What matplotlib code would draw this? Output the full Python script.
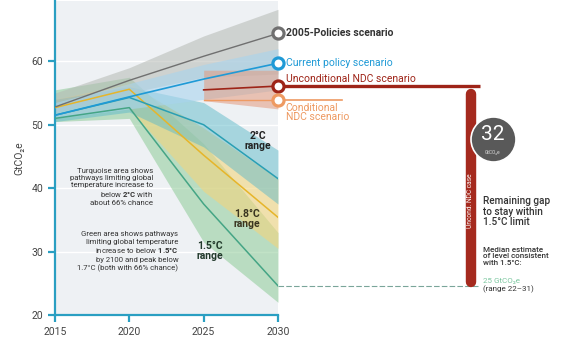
import matplotlib
matplotlib.use("Agg")
import matplotlib.pyplot as plt
import matplotlib.transforms as mtransforms
import numpy as np

plt.rcParams['font.family'] = ['Roboto', 'DejaVu Sans']
plt.rcParams['mathtext.fontset'] = 'custom'
plt.rcParams['mathtext.rm'] = 'Roboto'
plt.rcParams['mathtext.bf'] = 'Roboto:bold'

years = [2015, 2020, 2025, 2030]
ndc_years = [2025, 2030]

# Scenario lines
pol2005 = [52.8, 57.0, 60.8, 64.4]
current = [51.5, 54.4, 57.2, 59.7]
path_2c = [51.5, 54.3, 50.0, 41.5]
path_18c = [52.7, 55.6, 45.2, 35.4]
path_15c = [51.0, 52.7, 37.5, 24.6]
uncond_ndc = [55.5, 56.1]
cond_ndc = [53.9, 53.9]

# Ranges (low, high)
pol2005_lo = [52.0, 55.0, 57.5, 58.0]
pol2005_hi = [55.0, 59.0, 64.0, 68.2]
current_lo = [51.0, 52.5, 54.0, 55.5]
current_hi = [53.5, 56.5, 59.5, 62.0]
r2c_lo = [50.5, 52.0, 46.5, 37.5]
r2c_hi = [54.0, 56.0, 53.5, 46.0]
r18c_lo = [51.5, 52.5, 39.5, 30.5]
r18c_hi = [54.0, 56.5, 49.5, 41.5]
r15c_lo = [50.5, 51.0, 31.5, 22.0]
r15c_hi = [55.5, 57.5, 47.0, 33.0]
ndc_lo = [53.8, 52.5]
ndc_hi = [58.6, 58.6]

median_15 = 25
gap_value = 32

yticks = [20, 30, 40, 50, 60]
xticks = [2015, 2020, 2025, 2030]

C_GREY = '#707070'
C_BLUE = '#1f9ad6'
C_TEAL = '#2a9fb3'
C_YEL = '#e6b52a'
C_GRN = '#45a585'
C_RED = '#9e2418'
C_ORG = '#ee9a62'
C_SPINE = '#2a9fc2'
C_TXT = '#333333'

fig = plt.figure(figsize=(5.8, 3.6), dpi=100)
ax = fig.add_axes([0.0948, 0.125, 0.3845, 0.872])
ax.set_facecolor('#eef1f4')
ax.set_xlim(2015, 2030)
ax.set_ylim(20, 69.5)

for y in yticks[1:]:
    ax.axhline(y, color='white', lw=1.0, zorder=0.5)

# Bands
ax.fill_between(years, r15c_lo, r15c_hi, color='#8fcb98', alpha=0.55, lw=0, zorder=1)
ax.fill_between(years, r18c_lo, r18c_hi, color='#f2d57e', alpha=0.6, lw=0, zorder=1.1)
ax.fill_between(years, r2c_lo, r2c_hi, color='#5fbac9', alpha=0.5, lw=0, zorder=1.2)
ax.fill_between(years, pol2005_lo, pol2005_hi, color='#b5b9b4', alpha=0.55, lw=0, zorder=1.3)
ax.fill_between(years, current_lo, current_hi, color='#a8d4ee', alpha=0.6, lw=0, zorder=1.4)
ax.fill_between(ndc_years, ndc_lo, ndc_hi, color='#e49a7e', alpha=0.55, lw=0, zorder=1.5)

# Lines
ax.plot(years, path_15c, color=C_GRN, lw=1.1, zorder=3)
ax.plot(years, path_18c, color=C_YEL, lw=1.1, zorder=3)
ax.plot(years, path_2c, color=C_TEAL, lw=1.1, zorder=3)
ax.plot(years, pol2005, color=C_GREY, lw=1.0, zorder=3)
ax.plot(years, current, color=C_BLUE, lw=1.2, zorder=3)
ax.plot(ndc_years, uncond_ndc, color=C_RED, lw=1.2, zorder=3)
ax.plot(ndc_years, cond_ndc, color=C_ORG, lw=1.0, zorder=3)

bt = mtransforms.blended_transform_factory(ax.transAxes, ax.transData)

# extensions to the right
ax.plot([1.0, 1.906], [uncond_ndc[-1]] * 2, color=C_RED, lw=2.4, transform=bt,
        clip_on=False, zorder=4, solid_capstyle='butt')
ax.plot([1.0, 1.287], [cond_ndc[-1]] * 2, color=C_ORG, lw=1.2, transform=bt,
        clip_on=False, zorder=4)
ax.plot([1.0, 1.906], [median_15 - 0.4] * 2, color='#7aa59a', lw=0.8, ls=(0, (5, 2)),
        transform=bt, clip_on=False, zorder=4)

# gap bar
ax.plot([1.864, 1.864], [uncond_ndc[-1] - 1.2, median_15 + 0.2], color='#a52a1e', lw=7.5,
        transform=bt, clip_on=False, zorder=5, solid_capstyle='round')
ax.text(1.864, 38, 'Uncond. NDC case', rotation=90, color='white', fontsize=4.8,
        ha='center', va='center', transform=bt, zorder=6)

# end markers
for vals, col in [(pol2005, C_GREY), (current, C_BLUE), (uncond_ndc, C_RED), (cond_ndc, C_ORG)]:
    ax.plot([2030], [vals[-1]], marker='o', ms=8, mfc='white', mec=col, mew=2.3,
            clip_on=False, zorder=7)

# gap circle
ax.scatter([1.963], [47.8], s=1050, color='#595959', edgecolor='white', lw=1.2,
           transform=bt, clip_on=False, zorder=8)
ax.text(1.963, 48.4, str(gap_value), color='white', fontsize=15, ha='center', va='center',
        transform=bt, zorder=9)
ax.text(1.963, 45.6, 'GtCO₂e', color='#dddddd', fontsize=3.5, ha='center', va='center',
        transform=bt, zorder=9)

# scenario labels
ax.text(1.035, pol2005[-1], '2005-Policies scenario', color=C_TXT, fontsize=7.5,
        fontweight='bold', va='center', transform=bt)
ax.text(1.035, current[-1] + 0.1, 'Current policy scenario', color=C_BLUE, fontsize=7.5,
        va='center', transform=bt)
ax.text(1.035, uncond_ndc[-1] + 0.35, 'Unconditional NDC scenario', color=C_RED, fontsize=7.5,
        va='bottom', transform=bt)
ax.text(1.035, cond_ndc[-1] - 0.4, 'Conditional\nNDC scenario', color=C_ORG, fontsize=7.5,
        va='top', linespacing=0.95, transform=bt)

# range labels
ax.text(2028.65, 47.4, '2°C\nrange', fontsize=7.5, fontweight='bold', color='#222222',
        ha='center', va='center', linespacing=1.0, zorder=6)
ax.text(2027.9, 35.2, '1.8°C\nrange', fontsize=7.5, fontweight='bold', color='#3a3520',
        ha='center', va='center', linespacing=1.0, zorder=6)
ax.text(2025.4, 30.1, '1.5°C\nrange', fontsize=7.5, fontweight='bold', color='#223a2c',
        ha='center', va='center', linespacing=1.0, zorder=6)

# explanatory text
ax.text(2021.6, 43.2, 'Turquoise area shows\npathways limiting global\ntemperature increase to\n'
        'below $\\mathbf{2°C}$ with\nabout 66% chance', fontsize=5.6, color='#333333',
        ha='right', va='top', linespacing=1.25, zorder=6)
ax.text(2023.3, 33.2, 'Green area shows pathways\nlimiting global temperature\n'
        'increase to below $\\mathbf{1.5°C}$\nby 2100 and peak below\n'
        '1.7°C (both with 66% chance)', fontsize=5.6, color='#333333',
        ha='right', va='top', linespacing=1.25, zorder=6)

# right side notes
ax.text(1.92, 38.7, 'Remaining gap\nto stay within\n1.5°C limit', fontsize=7.2,
        color='#333333', ha='left', va='top', linespacing=1.05, transform=bt,
        fontweight='medium')
ax.text(1.92, 30.8, 'Median estimate\nof level consistent\nwith 1.5°C:', fontsize=5.8,
        color='#333333', ha='left', va='top', linespacing=1.1, transform=bt,
        fontweight='medium')
ax.text(1.92, 25.9, f'{median_15} GtCO₂e', fontsize=5.8, color='#7cc7a0', ha='left',
        va='top', transform=bt)
ax.text(1.92, 24.6, '(range 22–31)', fontsize=5.8, color='#333333', ha='left',
        va='top', transform=bt)

# axes styling
for s in ['top', 'right']:
    ax.spines[s].set_visible(False)
for s in ['left', 'bottom']:
    ax.spines[s].set_color(C_SPINE)
    ax.spines[s].set_linewidth(1.6)
ax.set_yticks(yticks)
ax.set_xticks(xticks)
ax.tick_params(axis='both', colors=C_SPINE, length=5, width=1.6, labelsize=7.5,
               labelcolor='#444444')
ax.set_ylabel('GtCO₂e', fontsize=7.5, color='#444444', labelpad=5)

fig.savefig('out.png', dpi=100)
